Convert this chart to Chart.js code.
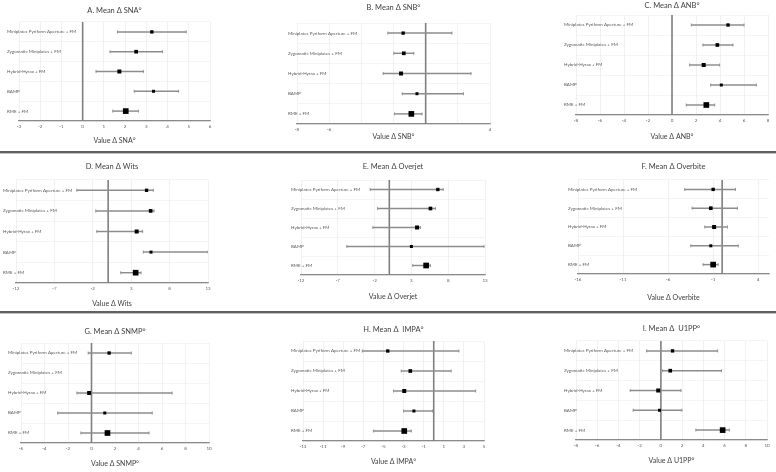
<!DOCTYPE html>
<html>
<head>
<meta charset="utf-8">
<script src="https://cdn.jsdelivr.net/npm/chart.js@4.4.1/dist/chart.umd.min.js"></script>
<style>
  html, body { margin: 0; padding: 0; background: #fff; }
  #wrap { position: relative; width: 776px; height: 472px; overflow: hidden; }
  .cell { position: absolute; }
  .sep { position: absolute; left: 0; width: 776px; height: 2px; background: #606060; border-bottom: 1px solid #c4c4c4; }
</style>
</head>
<body>
<div id="wrap">
  <div class="sep" style="top:151px"></div>
  <div class="sep" style="top:311px"></div>
</div>
<script>
const categories = ['Miniplates Pyriform Aperture + FM', 'Zygomatic Miniplates + FM', 'Hybrid-Hyrax + FM', 'BAMP', 'RME + FM'];
const weights = [10, 11, 12, 9, 17]; // relative square size per study group

// A. SNA
const snaMean = [3.26, 2.52, 1.73, 3.34, 2.03];
const snaLow = [1.64, 1.29, 0.63, 2.43, 1.42];
const snaHigh = [4.88, 3.76, 2.87, 4.52, 2.63];
const snaTicks = [-3, -2, -1, 0, 1, 2, 3, 4, 5, 6];

// B. SNB
const snbMean = [-1.40, -1.36, -1.53, -0.54, -0.89];
const snbLow = [-2.35, -1.98, -2.64, -1.46, -1.94];
const snbHigh = [1.63, -0.74, 2.82, 2.35, -0.23];
const snbTicks = [-8, -6, -4, -2, 0, 2, 4];
const snbShown = [-8, -6, 4];

// C. ANB
const anbMean = [4.67, 3.78, 2.64, 4.11, 2.86];
const anbLow = [1.61, 2.58, 1.47, 3.22, 1.19];
const anbHigh = [6.0, 5.08, 3.97, 7.03, 3.56];
const anbTicks = [-8, -6, -4, -2, 0, 2, 4, 6, 8];

// D. Wits
const witsMean = [5.0, 5.53, 3.71, 5.58, 3.58];
const witsLow = [-4.08, -1.61, -1.48, 4.58, 1.64];
const witsHigh = [5.88, 5.97, 4.49, 13.0, 4.28];
const witsTicks = [-12, -7, -2, 3, 8, 13];

// E. Overjet
const ojMean = [6.59, 5.59, 3.77, 3.0, 5.0];
const ojLow = [-2.59, -1.59, -2.23, -5.77, 3.18];
const ojHigh = [7.32, 6.27, 4.23, 12.86, 5.59];
const ojTicks = [-12, -7, -2, 3, 8, 13];

// F. Overbite
const obMean = [-1.0, -1.26, -0.89, -1.26, -1.0];
const obLow = [-4.15, -3.33, -1.93, -3.48, -2.11];
const obHigh = [1.48, 1.70, 0.59, 1.78, -0.44];
const obTicks = [-16, -11, -6, -1, 4];

// G. SNMP
const snmpMean = [1.5, null, -0.2, 1.13, 1.36];
const snmpLow = [-0.28, null, -1.24, -2.88, -0.9];
const snmpHigh = [3.39, null, 6.86, 5.17, 4.89];
const snmpTicks = [-6, -4, -2, 0, 2, 4, 6, 8, 10];

// H. IMPA
const impaMean = [-4.57, -2.33, -2.93, -1.97, -2.93];
const impaLow = [-7.1, -3.23, -4.0, -3.0, -6.0];
const impaHigh = [2.5, 1.73, 4.17, -0.1, -2.23];
const impaTicks = [-13, -11, -9, -7, -5, -3, -1, 1, 3, 5];

// I. U1PP
const u1ppMean = [1.1, 0.88, -0.25, -0.13, 5.82];
const u1ppLow = [-1.35, 0.16, -2.89, -2.61, 3.3];
const u1ppHigh = [5.35, 5.72, 1.89, 1.98, 6.45];
const u1ppTicks = [-8, -6, -4, -2, 0, 2, 4, 6, 8, 10];

const FONT = 'Lato, "Open Sans", sans-serif';

// cell: [left, top, w, h]; plot: [left, right, top, bottom]
const panels = [
  { title: 'A. Mean \u0394 SNA\u00b0', axis: 'Value \u0394 SNA\u00b0', mean: snaMean, low: snaLow, high: snaHigh, ticks: snaTicks,
    cell: [0, 0, 258, 151], plot: [19, 210, 22, 121], titleY: 11, axisY: 141, labelX: 7 },
  { title: 'B. Mean \u0394 SNB\u00b0', axis: 'Value \u0394 SNB\u00b0', mean: snbMean, low: snbLow, high: snbHigh, ticks: snbTicks, shown: snbShown,
    cell: [258, 0, 259, 151], plot: [297, 490, 23, 124], titleY: 8, axisY: 137, labelX: 288 },
  { title: 'C. Mean \u0394 ANB\u00b0', axis: 'Value \u0394 ANB\u00b0', mean: anbMean, low: anbLow, high: anbHigh, ticks: anbTicks,
    cell: [517, 0, 259, 151], plot: [576, 768, 15, 115], titleY: 6, axisY: 137, labelX: 564 },
  { title: 'D. Mean \u0394 Wits', axis: 'Value \u0394 Wits', mean: witsMean, low: witsLow, high: witsHigh, ticks: witsTicks,
    cell: [0, 154, 258, 157], plot: [16, 208, 180, 283], titleY: 167, axisY: 304, labelX: 3 },
  { title: 'E. Mean \u0394 Overjet', axis: 'Value \u0394 Overjet', mean: ojMean, low: ojLow, high: ojHigh, ticks: ojTicks,
    cell: [258, 154, 259, 157], plot: [301, 485, 180, 275], titleY: 167, axisY: 297, labelX: 291 },
  { title: 'F. Mean \u0394 Overbite', axis: 'Value \u0394 Overbite', mean: obMean, low: obLow, high: obHigh, ticks: obTicks, max: 5.2,
    cell: [517, 154, 259, 157], plot: [578, 769, 180, 274], titleY: 167, axisY: 298, labelX: 568 },
  { title: 'G. Mean \u0394 SNMP\u00b0', axis: 'Value \u0394 SNMP\u00b0', mean: snmpMean, low: snmpLow, high: snmpHigh, ticks: snmpTicks,
    cell: [0, 314, 258, 158], plot: [21, 209, 343, 443], titleY: 332, axisY: 464, labelX: 8 },
  { title: 'H. Mean \u0394  IMPA\u00b0', axis: 'Value \u0394 IMPA\u00b0', mean: impaMean, low: impaLow, high: impaHigh, ticks: impaTicks,
    cell: [258, 314, 259, 158], plot: [303, 484, 341, 441], titleY: 330, axisY: 462, labelX: 291 },
  { title: 'I. Mean \u0394  U1PP\u00b0', axis: 'Value \u0394 U1PP\u00b0', mean: u1ppMean, low: u1ppLow, high: u1ppHigh, ticks: u1ppTicks,
    cell: [517, 314, 259, 158], plot: [576, 767, 341, 440], titleY: 329, axisY: 461, labelX: 564 }
];

const zeroLine = {
  id: 'zeroLine',
  beforeDatasetsDraw(chart) {
    const { ctx, chartArea: { top, bottom }, scales: { x } } = chart;
    const px = x.getPixelForValue(0);
    ctx.save();
    ctx.strokeStyle = '#7f7f7f';
    ctx.lineWidth = 1.6;
    ctx.beginPath();
    ctx.moveTo(px, top);
    ctx.lineTo(px, bottom);
    ctx.stroke();
    ctx.restore();
  }
};

function makePanel(p) {
  const [cx, cy, cw, ch] = p.cell;
  const [pl, pr, pt, pb] = p.plot;
  const div = document.createElement('div');
  div.className = 'cell';
  div.style.left = cx + 'px';
  div.style.top = cy + 'px';
  const canvas = document.createElement('canvas');
  canvas.width = cw;
  canvas.height = ch;
  canvas.style.width = cw + 'px';
  canvas.style.height = ch + 'px';
  div.appendChild(canvas);
  document.getElementById('wrap').appendChild(div);

  const titleSize = 7.5;
  const titleLh = titleSize * 1.2;
  const titleTop = p.titleY - cy - titleLh / 2;
  const titleBottom = pt - cy - titleTop - titleLh;
  const axisSize = 7;
  const scaleBottom = p.axisY + axisSize * 1.2 / 2;
  const xHeight = scaleBottom - pb;

  new Chart(canvas, {
    type: 'bar',
    data: {
      labels: categories,
      datasets: [
        {
          type: 'bar',
          data: p.low.map((l, i) => (l == null ? null : [l, p.high[i]])),
          backgroundColor: '#8c8c8c',
          borderWidth: 0,
          barThickness: 0.8,
          order: 3
        },
        {
          type: 'line', data: p.low, showLine: false, order: 2,
          pointStyle: 'line', pointRotation: 90, pointRadius: 1.6,
          pointBorderColor: '#8c8c8c', pointBorderWidth: 0.8
        },
        {
          type: 'line', data: p.high, showLine: false, order: 2,
          pointStyle: 'line', pointRotation: 90, pointRadius: 1.6,
          pointBorderColor: '#8c8c8c', pointBorderWidth: 0.8
        },
        {
          type: 'line', data: p.mean, showLine: false, order: 1,
          pointStyle: 'rect', pointRadius: weights.map((w) => w * 0.236),
          pointBackgroundColor: '#000', pointBorderWidth: 0
        }
      ]
    },
    options: {
      indexAxis: 'y',
      responsive: false,
      animation: false,
      events: [],
      layout: { padding: { left: pl - cx, right: cx + cw - pr, top: 0, bottom: cy + ch - scaleBottom } },
      scales: {
        x: {
          type: 'linear',
          min: p.ticks[0],
          max: p.max ?? p.ticks[p.ticks.length - 1],
          afterBuildTicks: (s) => { s.ticks = p.ticks.map((v) => ({ value: v })); },
          afterFit: (s) => { s.height = xHeight; },
          grid: { color: '#e8e8e8', lineWidth: 0.6, drawTicks: false },
          border: { color: '#8a8a8a', width: 1.2 },
          ticks: {
            padding: 3, autoSkip: false, maxRotation: 0, color: '#595959',
            font: { size: 4.5, family: FONT },
            callback: (v) => (p.shown && !p.shown.includes(v) ? '' : String(v))
          },
          title: { display: true, text: p.axis, color: '#404040', padding: 0, font: { size: axisSize, family: FONT } }
        },
        y: {
          type: 'category',
          offset: true,
          grid: { color: '#ececec', lineWidth: 0.6, drawTicks: false, offset: true },
          border: { display: false },
          // mirrored labels: negative padding is applied three times (axis width, label offset)
          ticks: { mirror: true, padding: (p.labelX - pl) / 3, color: '#595959', font: { size: 4.5, family: FONT } }
        }
      },
      plugins: {
        legend: { display: false },
        tooltip: { enabled: false },
        title: {
          display: true, text: p.title, color: '#404040',
          font: { size: titleSize, weight: 'normal', family: FONT },
          padding: { top: titleTop, bottom: titleBottom }
        }
      }
    },
    plugins: [zeroLine]
  });
}

panels.forEach(makePanel);
</script>
</body>
</html>
